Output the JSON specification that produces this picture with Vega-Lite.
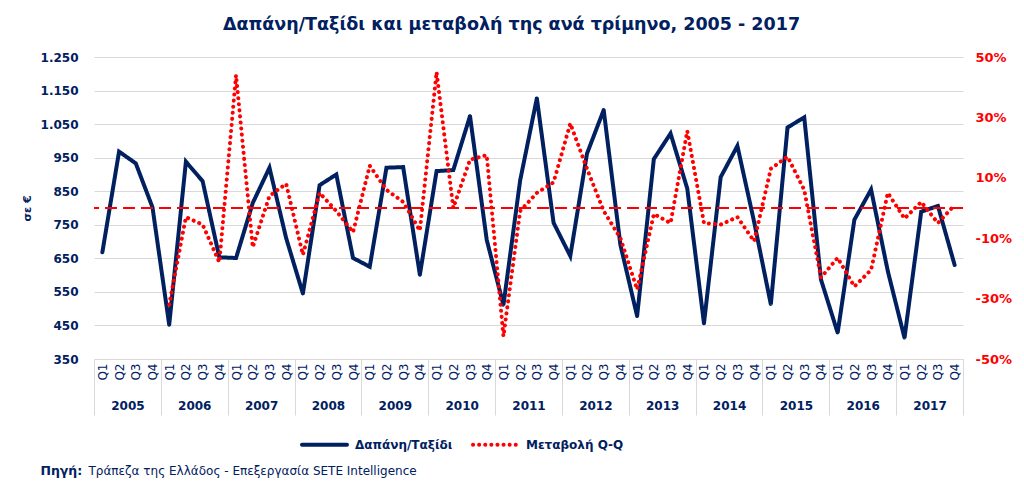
{
  "$schema": "https://vega.github.io/schema/vega-lite/v6.json",
  "width": 869,
  "height": 302,
  "autosize": {"type": "none"},
  "padding": {"left": 94, "top": 57, "right": 61, "bottom": 130},
  "background": "white",
  "config": {
    "view": {"stroke": null},
    "font": "DejaVu Sans"
  },
  "title": {
    "text": "Δαπάνη/Ταξίδι και μεταβολή της ανά τρίμηνο, 2005 - 2017",
    "font": "DejaVu Sans",
    "fontSize": 17.5,
    "fontWeight": "bold",
    "color": "#002060",
    "anchor": "middle",
    "dx": -17,
    "offset": 18
  },
  "data": {
    "values": [
      {"t": "2005 Q1", "yr": "2005", "sp": 668, "ch": null},
      {"t": "2005 Q2", "yr": "2005", "sp": 968, "ch": null},
      {"t": "2005 Q3", "yr": "2005", "sp": 933, "ch": null},
      {"t": "2005 Q4", "yr": "2005", "sp": 802, "ch": null},
      {"t": "2006 Q1", "yr": "2006", "sp": 452, "ch": -0.32},
      {"t": "2006 Q2", "yr": "2006", "sp": 938, "ch": -0.03},
      {"t": "2006 Q3", "yr": "2006", "sp": 880, "ch": -0.055},
      {"t": "2006 Q4", "yr": "2006", "sp": 653, "ch": -0.18},
      {"t": "2007 Q1", "yr": "2007", "sp": 651, "ch": 0.44},
      {"t": "2007 Q2", "yr": "2007", "sp": 815, "ch": -0.13},
      {"t": "2007 Q3", "yr": "2007", "sp": 920, "ch": 0.04},
      {"t": "2007 Q4", "yr": "2007", "sp": 710, "ch": 0.08},
      {"t": "2008 Q1", "yr": "2008", "sp": 545, "ch": -0.155},
      {"t": "2008 Q2", "yr": "2008", "sp": 868, "ch": 0.05},
      {"t": "2008 Q3", "yr": "2008", "sp": 900, "ch": -0.01},
      {"t": "2008 Q4", "yr": "2008", "sp": 651, "ch": -0.08},
      {"t": "2009 Q1", "yr": "2009", "sp": 625, "ch": 0.14},
      {"t": "2009 Q2", "yr": "2009", "sp": 920, "ch": 0.06},
      {"t": "2009 Q3", "yr": "2009", "sp": 922, "ch": 0.02},
      {"t": "2009 Q4", "yr": "2009", "sp": 601, "ch": -0.075},
      {"t": "2010 Q1", "yr": "2010", "sp": 910, "ch": 0.45},
      {"t": "2010 Q2", "yr": "2010", "sp": 913, "ch": 0.0},
      {"t": "2010 Q3", "yr": "2010", "sp": 1074, "ch": 0.16},
      {"t": "2010 Q4", "yr": "2010", "sp": 705, "ch": 0.175},
      {"t": "2011 Q1", "yr": "2011", "sp": 511, "ch": -0.425},
      {"t": "2011 Q2", "yr": "2011", "sp": 882, "ch": -0.01},
      {"t": "2011 Q3", "yr": "2011", "sp": 1127, "ch": 0.05},
      {"t": "2011 Q4", "yr": "2011", "sp": 756, "ch": 0.085},
      {"t": "2012 Q1", "yr": "2012", "sp": 657, "ch": 0.28},
      {"t": "2012 Q2", "yr": "2012", "sp": 962, "ch": 0.13},
      {"t": "2012 Q3", "yr": "2012", "sp": 1092, "ch": -0.01},
      {"t": "2012 Q4", "yr": "2012", "sp": 690, "ch": -0.10},
      {"t": "2013 Q1", "yr": "2013", "sp": 478, "ch": -0.27},
      {"t": "2013 Q2", "yr": "2013", "sp": 946, "ch": -0.02},
      {"t": "2013 Q3", "yr": "2013", "sp": 1022, "ch": -0.05},
      {"t": "2013 Q4", "yr": "2013", "sp": 858, "ch": 0.255},
      {"t": "2014 Q1", "yr": "2014", "sp": 456, "ch": -0.05},
      {"t": "2014 Q2", "yr": "2014", "sp": 892, "ch": -0.055},
      {"t": "2014 Q3", "yr": "2014", "sp": 985, "ch": -0.03},
      {"t": "2014 Q4", "yr": "2014", "sp": 759, "ch": -0.11},
      {"t": "2015 Q1", "yr": "2015", "sp": 513, "ch": 0.13},
      {"t": "2015 Q2", "yr": "2015", "sp": 1040, "ch": 0.17},
      {"t": "2015 Q3", "yr": "2015", "sp": 1070, "ch": 0.06},
      {"t": "2015 Q4", "yr": "2015", "sp": 587, "ch": -0.23},
      {"t": "2016 Q1", "yr": "2016", "sp": 428, "ch": -0.165},
      {"t": "2016 Q2", "yr": "2016", "sp": 765, "ch": -0.26},
      {"t": "2016 Q3", "yr": "2016", "sp": 855, "ch": -0.205},
      {"t": "2016 Q4", "yr": "2016", "sp": 612, "ch": 0.05},
      {"t": "2017 Q1", "yr": "2017", "sp": 413, "ch": -0.035},
      {"t": "2017 Q2", "yr": "2017", "sp": 789, "ch": 0.02},
      {"t": "2017 Q3", "yr": "2017", "sp": 806, "ch": -0.05},
      {"t": "2017 Q4", "yr": "2017", "sp": 630, "ch": 0.01}
    ]
  },
  "layer": [
    {
      "layer": [
        {
          "mark": {"type": "line", "strokeWidth": 4, "strokeJoin": "miter", "strokeCap": "round"},
          "encoding": {
            "x": {
              "field": "t", "type": "ordinal",
              "scale": {"type": "point", "padding": 0.5},
              "axis": {
                "orient": "bottom",
                "title": "Πηγή:",
                "titleFont": "DejaVu Sans",
                "titleFontSize": 12.5,
                "titleFontWeight": "bold",
                "titleColor": "#002060",
                "titleAngle": 0,
                "titleAlign": "left",
                "titleAnchor": "start",
                "titleBaseline": "alphabetic",
                "titleX": -54,
                "titleY": 115,
                "labelExpr": "slice(datum.value, 5)",
                "labelAngle": -90,
                "labelFontSize": 12,
                "labelColor": "#002060",
                "labelPadding": 4,
                "ticks": false,
                "domain": false,
                "grid": false
              }
            },
            "y": {
              "field": "sp", "type": "quantitative",
              "scale": {"domain": [350, 1250], "nice": false, "zero": false},
              "axis": {
                "orient": "left",
                "values": [350, 450, 550, 650, 750, 850, 950, 1050, 1150, 1250],
                "labelExpr": "replace(format(datum.value, ','), ',', '.')",
                "labelFontSize": 12,
                "labelFontWeight": "bold",
                "labelColor": "#002060",
                "labelPadding": 16,
                "ticks": false,
                "domain": false,
                "grid": true,
                "gridColor": "#d9d9d9",
                "gridWidth": 1,
                "title": "σε €",
                "titleFontSize": 11,
                "titleFontWeight": "bold",
                "titleColor": "#002060",
                "titlePadding": 8
              }
            },
            "color": {
              "datum": "Δαπάνη/Ταξίδι",
              "scale": {"domain": ["Δαπάνη/Ταξίδι", "Μεταβολή Q-Q"], "range": ["#002060", "#ff0000"]},
              "legend": {
                "orient": "none",
                "legendX": 206,
                "legendY": 363,
                "direction": "horizontal",
                "title": null,
                "symbolType": "stroke",
                "symbolSize": 2025,
                "symbolStrokeWidth": 4,
                "labelFont": "DejaVu Sans",
                "labelFontSize": 12,
                "labelFontWeight": "bold",
                "labelColor": "#002060",
                "labelOffset": 6,
                "columnPadding": 12,
                "encode": {"symbols": {"update": {"strokeCap": {"value": "round"}}}}
              }
            },
            "strokeDash": {
              "datum": "Δαπάνη/Ταξίδι",
              "scale": {"domain": ["Δαπάνη/Ταξίδι", "Μεταβολή Q-Q"], "range": [[1, 0], [0.1, 6]]},
              "legend": null
            }
          }
        },
        {
          "layer": [
            {
              "mark": {"type": "rule", "color": "#ff0000", "strokeWidth": 2, "strokeDash": [12, 6]},
              "encoding": {
                "y": {"datum": 0, "type": "quantitative"}
              }
            },
            {
              "mark": {"type": "line", "strokeWidth": 4, "strokeCap": "round"},
              "encoding": {
                "x": {"field": "t", "type": "ordinal"},
                "y": {
                  "field": "ch", "type": "quantitative",
                  "scale": {"domain": [-0.5, 0.5], "nice": false, "zero": false},
                  "axis": {
                    "orient": "right",
                    "values": [-0.5, -0.4, -0.3, -0.2, -0.1, 0, 0.1, 0.2, 0.3, 0.4, 0.5],
                    "labelExpr": "round(datum.value * 100) + '%'",
                    "labelFontSize": 13,
                    "labelFontWeight": "bold",
                    "labelColor": "#ff0000",
                    "labelPadding": 12,
                    "ticks": false,
                    "domain": false,
                    "grid": false,
                    "title": null
                  }
                },
                "color": {"datum": "Μεταβολή Q-Q"},
                "strokeDash": {"datum": "Μεταβολή Q-Q"}
              }
            }
          ]
        }
      ],
      "resolve": {"scale": {"y": "independent"}}
    },
    {
      "mark": {"type": "rule", "opacity": 0},
      "encoding": {
        "x": {
          "field": "yr", "type": "ordinal",
          "scale": {"type": "band", "paddingInner": 0, "paddingOuter": 0},
          "axis": {
            "orient": "bottom",
            "tickBand": "extent",
            "ticks": true,
            "tickSize": 56,
            "tickColor": "#d9d9d9",
            "tickWidth": 1,
            "domain": false,
            "labelAngle": 0,
            "labelFontSize": 12,
            "labelFontWeight": "bold",
            "labelColor": "#002060",
            "labelPadding": -15,
            "title": "Τράπεζα της Ελλάδος - Επεξεργασία SETE Intelligence",
            "titleFont": "DejaVu Sans",
            "titleFontSize": 12,
            "titleFontWeight": "normal",
            "titleColor": "#002060",
            "titleAngle": 0,
            "titleAlign": "left",
            "titleAnchor": "start",
            "titleBaseline": "alphabetic",
            "titleX": -6,
            "titleY": 115
          }
        }
      }
    }
  ],
  "resolve": {"scale": {"x": "independent"}}
}
